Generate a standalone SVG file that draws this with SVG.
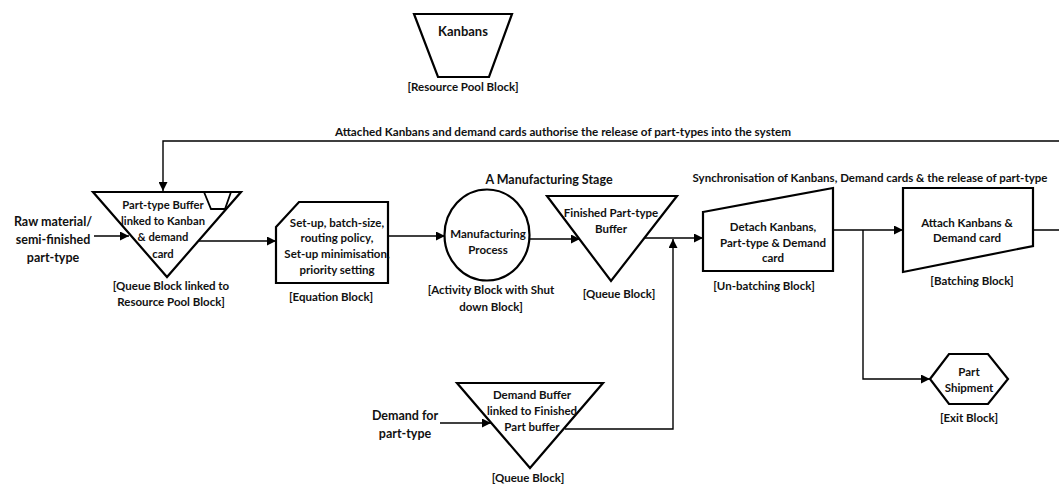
<svg xmlns="http://www.w3.org/2000/svg" width="1059" height="484" viewBox="0 0 1059 484">
  <style>
    text { font-family: Lato, "Liberation Sans", sans-serif; font-weight: bold; font-size: 11.5px; fill: #111; text-anchor: middle; dominant-baseline: central; }
    .big { font-size: 12.5px; }
    .shape { fill: #fff; stroke: #000; stroke-width: 2.2; stroke-linejoin: miter; }
    .wire { fill: none; stroke: #000; stroke-width: 1.4; }
  </style>
  <defs>
    <marker id="arrow" viewBox="0 0 10 10" refX="10" refY="5" markerWidth="9" markerHeight="9" markerUnits="userSpaceOnUse" orient="auto">
      <path d="M0,0 L10,5 L0,10 z" fill="#000"/>
    </marker>
  </defs>
  <rect width="1059" height="484" fill="#fff"/>

  <!-- connectors -->
  <g id="connectors">
    <path class="wire" d="M1033,230 H1062 V141 H163 V191" marker-end="url(#arrow)"/>
    <path class="wire" d="M94,236 H129" marker-end="url(#arrow)"/>
    <path class="wire" d="M198,241 H276" marker-end="url(#arrow)"/>
    <path class="wire" d="M388,236 H445" marker-end="url(#arrow)"/>
    <path class="wire" d="M530,239 H580" marker-end="url(#arrow)"/>
    <path class="wire" d="M644,238 H703" marker-end="url(#arrow)"/>
    <path class="wire" d="M565,429 H673 V239" marker-end="url(#arrow)"/>
    <path class="wire" d="M833,230 H903" marker-end="url(#arrow)"/>
    <path class="wire" d="M863,230 V379 H930" marker-end="url(#arrow)"/>
    <path class="wire" d="M440,423 H491" marker-end="url(#arrow)"/>
  </g>

  <!-- free labels -->
  <text x="563" y="131" style="font-size:11.7px">Attached Kanbans and demand cards authorise the release of part-types into the system</text>
  <text class="big" x="549" y="179">A Manufacturing Stage</text>
  <text x="870" y="177">Synchronisation of Kanbans, Demand cards &amp; the release of part-type</text>
  <g id="raw-material">
    <text class="big" x="53" y="221">Raw material/</text>
    <text class="big" x="53" y="239">semi-finished</text>
    <text class="big" x="53" y="257">part-type</text>
  </g>
  <g id="demand-input">
    <text class="big" x="405" y="415">Demand for</text>
    <text class="big" x="405" y="433">part-type</text>
  </g>

  <!-- resource pool -->
  <g id="kanbans">
    <polygon class="shape" points="414,14 512,14 489,77 438,77"/>
    <text x="463" y="31" style="font-size:13px">Kanbans</text>
    <text x="463" y="86">[Resource Pool Block]</text>
  </g>

  <!-- part-type buffer (queue linked to resource pool) -->
  <g id="part-type-buffer">
    <polygon class="shape" points="93,192 241,192 167,277"/>
    <polygon class="shape" points="204,192 231,192 225,209 211,209" style="stroke-width:1.8"/>
    <text x="163" y="204" style="font-size:11.2px">Part-type Buffer</text>
    <text x="163" y="220" style="font-size:11.2px">linked to Kanban</text>
    <text x="163" y="236" style="font-size:11.2px">&amp; demand</text>
    <text x="163" y="253" style="font-size:11.2px">card</text>
    <text x="171" y="285">[Queue Block linked to</text>
    <text x="171" y="301">Resource Pool Block]</text>
  </g>

  <!-- equation block -->
  <g id="equation">
    <polygon class="shape" points="276,227 299,202 388,202 388,283 276,283"/>
    <text x="337" y="222">Set-up, batch-size,</text>
    <text x="337" y="237">routing policy,</text>
    <text x="337" y="253">Set-up minimisation,</text>
    <text x="337" y="269">priority setting</text>
    <text x="331" y="296">[Equation Block]</text>
  </g>

  <!-- activity -->
  <g id="manufacturing-process">
    <ellipse class="shape" cx="487" cy="235" rx="42.5" ry="45.5"/>
    <text x="488" y="233">Manufacturing</text>
    <text x="488" y="249">Process</text>
    <text x="491" y="289">[Activity Block with Shut</text>
    <text x="491" y="306">down Block]</text>
  </g>

  <!-- finished buffer -->
  <g id="finished-buffer">
    <polygon class="shape" points="547,196 677,196 611,281"/>
    <text x="611" y="212">Finished Part-type</text>
    <text x="611" y="228">Buffer</text>
    <text x="619" y="293">[Queue Block]</text>
  </g>

  <!-- demand buffer -->
  <g id="demand-buffer">
    <polygon class="shape" points="457,383 603,383 530,468"/>
    <text x="532" y="394">Demand Buffer</text>
    <text x="532" y="410">linked to Finished</text>
    <text x="532" y="426">Part buffer</text>
    <text x="528" y="477">[Queue Block]</text>
  </g>

  <!-- un-batching -->
  <g id="unbatching">
    <polygon class="shape" points="703,212 833,188 833,271 703,271"/>
    <text x="773" y="226">Detach Kanbans,</text>
    <text x="773" y="242">Part-type &amp; Demand</text>
    <text x="773" y="257">card</text>
    <text x="764" y="285">[Un-batching Block]</text>
  </g>

  <!-- batching -->
  <g id="batching">
    <polygon class="shape" points="903,188 1033,188 1033,246 903,272"/>
    <text x="967" y="222">Attach Kanbans &amp;</text>
    <text x="967" y="237">Demand card</text>
    <text x="972" y="280">[Batching Block]</text>
  </g>

  <!-- exit -->
  <g id="part-shipment">
    <polygon class="shape" points="930,379 949,354 988,354 1008,379 988,404 949,404"/>
    <text x="969" y="371">Part</text>
    <text x="969" y="387">Shipment</text>
    <text x="969" y="417">[Exit Block]</text>
  </g>
</svg>
